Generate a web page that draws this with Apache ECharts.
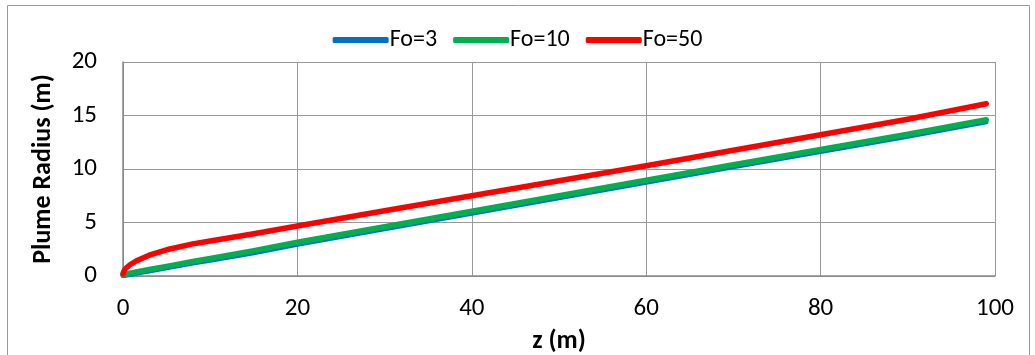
<!DOCTYPE html>
<html><head><meta charset="utf-8">
<script src="https://cdn.jsdelivr.net/npm/echarts@6/dist/echarts.min.js"></script>
<style>html,body{margin:0;padding:0;background:#fff}#c{width:1035px;height:355px}</style>
</head><body><div id="c"></div>
<script>
const zValues = [0, 0.1, 0.3, 0.8, 1.5, 3, 5, 8, 10, 15, 20, 30, 40, 50, 60, 70, 80, 90, 99];
const fo3 =  [0, 0.02, 0.05, 0.12, 0.22, 0.45, 0.75, 1.18, 1.45, 2.15, 2.93, 4.38, 5.83, 7.28, 8.73, 10.18, 11.6, 13.03, 14.38];
const fo10 = [0.1, 0.13, 0.18, 0.27, 0.38, 0.6, 0.9, 1.35, 1.65, 2.37, 3.15, 4.6, 6.05, 7.5, 8.95, 10.4, 11.82, 13.25, 14.6];
const fo50 = [0.2, 0.45, 0.7, 1.05, 1.4, 1.95, 2.45, 3.0, 3.27, 3.95, 4.67, 6.1, 7.5, 8.9, 10.3, 11.75, 13.2, 14.65, 16.1];
const seriesNames = ['Fo=3', 'Fo=10', 'Fo=50'];
const pair = arr => zValues.map((z, i) => [z, arr[i]]);
const font = 'Carlito, Lato, "Liberation Sans", sans-serif';
const chart = echarts.init(document.getElementById('c'));
chart.setOption({
  animation: false,
  graphic: [
    {type: 'rect', shape: {x: 7.5, y: 5.5, width: 1022, height: 360}, style: {fill: 'none', stroke: '#999', lineWidth: 1}},
    {type: 'line', shape: {x1: 995.5, y1: 62, x2: 995.5, y2: 276}, style: {stroke: '#999', lineWidth: 1}}
  ],
  legend: {
    top: 23, left: 'center', itemWidth: 56, itemHeight: 6, itemGap: 16,
    textStyle: {fontFamily: font, fontSize: 24, color: '#000', padding: [0,0,0,-4]},
    data: seriesNames.map(n => ({name: n, icon: 'roundRect'}))
  },
  grid: {left: 123, right: 40, top: 62, bottom: 79, containLabel: false, outerBoundsMode: 'none'},
  xAxis: {
    type: 'value', min: 0, max: 100, interval: 20,
    name: 'z (m)', nameLocation: 'middle', nameGap: 52,
    nameTextStyle: {fontFamily: font, fontSize: 26, fontWeight: 'bold', color: '#000'},
    axisLine: {lineStyle: {color: '#888', width: 1.5}},
    axisTick: {show: false},
    axisLabel: {fontFamily: font, fontSize: 25, color: '#000', margin: 20},
    splitLine: {show: true, lineStyle: {color: '#999', width: 1}}
  },
  yAxis: {
    type: 'value', min: 0, max: 20, interval: 5,
    name: 'Plume Radius (m)', nameLocation: 'middle', nameGap: 67,
    nameTextStyle: {fontFamily: font, fontSize: 26, fontWeight: 'bold', color: '#000'},
    axisLine: {show: true, lineStyle: {color: '#888', width: 1.5}},
    axisTick: {show: false},
    axisLabel: {fontFamily: font, fontSize: 25, color: '#000', margin: 26},
    splitLine: {show: true, lineStyle: {color: '#999', width: 1}}
  },
  series: [
    {name: seriesNames[0], type: 'line', data: pair(fo3), showSymbol: false, color: '#0070C0', lineStyle: {width: 4.5, cap: 'round', join: 'round'}, z: 1},
    {name: seriesNames[1], type: 'line', data: pair(fo10), showSymbol: false, color: '#00B050', lineStyle: {width: 5.5, cap: 'round', join: 'round'}, z: 2},
    {name: seriesNames[2], type: 'line', data: pair(fo50), showSymbol: false, color: '#FF0000', lineStyle: {width: 5.5, cap: 'round', join: 'round'}, z: 3}
  ]
});
</script></body></html>
